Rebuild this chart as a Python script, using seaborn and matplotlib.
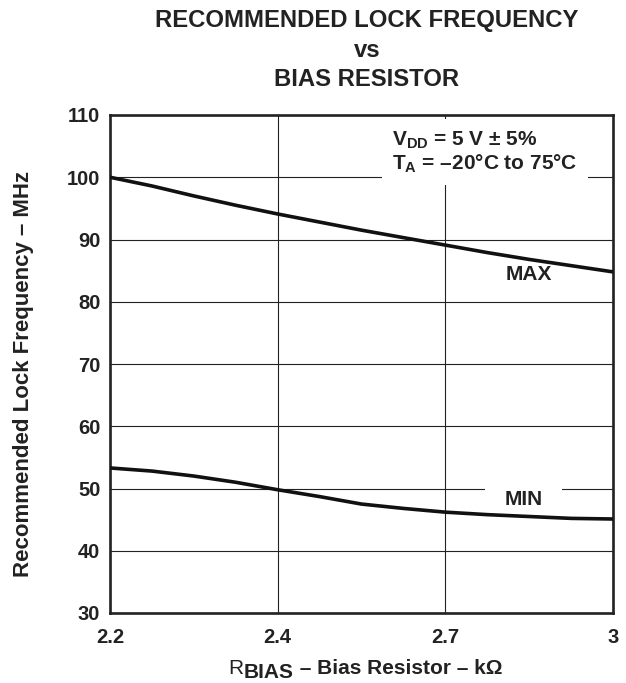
import numpy as np
import pandas as pd
import matplotlib
matplotlib.use('Agg')
import matplotlib.pyplot as plt
import seaborn as sns

### data (R_BIAS in kOhm, frequency in MHz)
r_bias = [2.2, 2.25, 2.3, 2.35, 2.4, 2.475, 2.55, 2.625, 2.7, 2.775, 2.85, 2.925, 3.0]
f_max = [100.0, 98.6, 97.0, 95.5, 94.1, 92.8, 91.5, 90.3, 89.1, 87.9, 86.8, 85.8, 84.8]
f_min = [53.3, 52.8, 52.0, 51.0, 49.8, 48.7, 47.5, 46.8, 46.2, 45.8, 45.5, 45.2, 45.1]
x_ticks = [2.2, 2.4, 2.7, 3.0]
x_ticklabels = ['2.2', '2.4', '2.7', '3']
y_ticks = [30, 40, 50, 60, 70, 80, 90, 100, 110]

df = pd.DataFrame({
    'rbias': r_bias * 2,
    'freq': f_max + f_min,
    'curve': ['MAX'] * len(r_bias) + ['MIN'] * len(r_bias),
})

ink = '#222222'
sns.set_theme(style='white')
plt.rcParams['font.family'] = ['Liberation Sans', 'DejaVu Sans']
plt.rcParams['font.weight'] = 'bold'
plt.rcParams['mathtext.fontset'] = 'custom'
plt.rcParams['mathtext.rm'] = 'Liberation Sans'
plt.rcParams['mathtext.bf'] = 'Liberation Sans:bold'
plt.rcParams['mathtext.it'] = 'Liberation Sans:italic'

fig = plt.figure(figsize=(6.26, 6.83), dpi=100)
ax = fig.add_axes([110 / 626, 1 - 613 / 683, 503 / 626, 498 / 683])

### the x axis is evenly spaced between the labelled resistor values
pos = np.arange(len(x_ticks))
fwd = lambda x: np.interp(x, x_ticks, pos)
inv = lambda p: np.interp(p, pos, x_ticks)
ax.set_xscale('function', functions=(fwd, inv))

sns.lineplot(data=df, x='rbias', y='freq', hue='curve', palette=['#111111', '#111111'],
             linewidth=2.6, legend=False, ax=ax, zorder=4)

ax.set_xlim(2.2, 3.0)
ax.set_ylim(30, 110)
ax.set_xticks(x_ticks)
ax.set_xticklabels(x_ticklabels)
ax.set_yticks(y_ticks)
ax.grid(True, color=ink, linewidth=0.8)
ax.set_axisbelow(True)
ax.tick_params(axis='both', length=0, labelsize=14.5, colors=ink)
ax.tick_params(axis='x', pad=11)
ax.tick_params(axis='y', pad=7)
for lab in ax.get_xticklabels() + ax.get_yticklabels():
    lab.set_fontweight('bold')
for s in ax.spines.values():
    s.set_linewidth(1.9)
    s.set_color(ink)

ax.set_xlabel('')
ax.set_ylabel('Recommended Lock Frequency – MHz', fontsize=16, fontweight='bold', color=ink)
ax.yaxis.set_label_coords(-0.152, 0.48)

### x label: R, lowered BIAS, then the rest on R's baseline
r_txt = fig.text(228 / 626, 1 - 674 / 683, 'R', fontsize=15, fontweight='normal', color=ink,
                 ha='left', va='baseline')
b_txt = ax.annotate('BIAS', xy=(1, 0), xycoords=r_txt, xytext=(0.5, -3), textcoords='offset points',
                    ha='left', va='bottom', fontsize=15, fontweight='bold', color=ink)
ax.annotate(' – Bias Resistor – kΩ', xy=(1, 0), xycoords=b_txt, xytext=(0, 3), textcoords='offset points',
            ha='left', va='bottom', fontsize=15, fontweight='bold', color=ink)

### curve labels and conditions
ax.text(2.85, 84.3, 'MAX', ha='center', va='center', fontsize=15, fontweight='bold', color=ink, zorder=3)
ax.text(2.84, 48.3, 'MIN', ha='center', va='center', fontsize=15, fontweight='bold', color=ink, zorder=3,
        bbox=dict(boxstyle='square,pad=0.95', fc='white', ec='none'))
ax.text(0.561, 0.926, 'V$_{\\mathbf{DD}}$ = 5 V $\\pm$ 5%\nT$_{\\mathbf{A}}$ = –20°C to 75°C',
        transform=ax.transAxes, ha='left', va='center', fontsize=15, fontweight='bold',
        color=ink, linespacing=1.1, zorder=3,
        bbox=dict(boxstyle='square,pad=0.5', fc='white', ec='none'))

### three line title
title_lines = ['RECOMMENDED LOCK FREQUENCY', 'vs', 'BIAS RESISTOR']
for i, t in enumerate(title_lines):
    fig.text(0.586, 1 - (21 + i * 29.5) / 683, t, ha='center', va='center',
             fontsize=17.2, fontweight='bold', color=ink)

fig.savefig('out.png', dpi=100)
